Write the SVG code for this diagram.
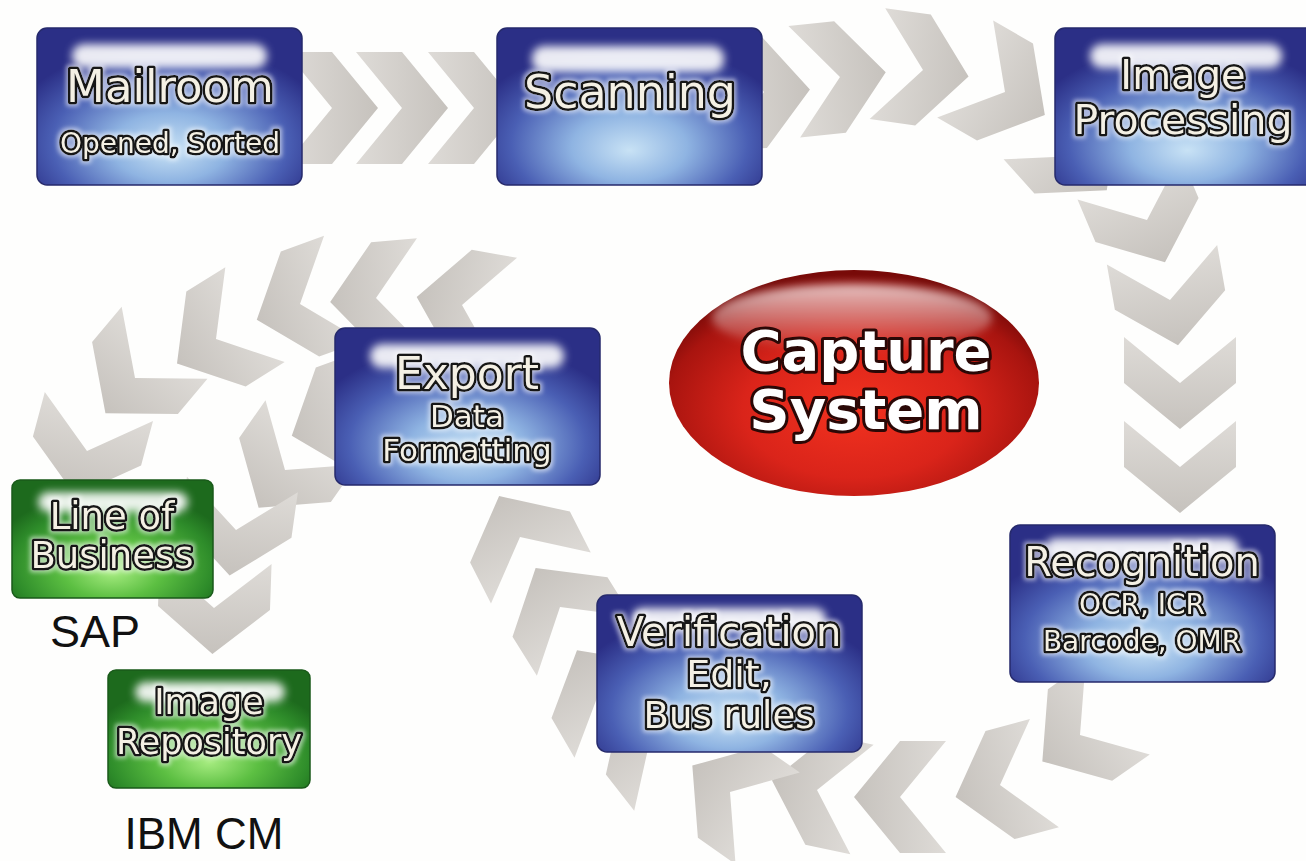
<svg xmlns="http://www.w3.org/2000/svg" xmlns:xlink="http://www.w3.org/1999/xlink" width="1306" height="861" viewBox="0 0 1306 861">
<defs>
<style>
.bt{font-family:"DejaVu Sans",Verdana,sans-serif;fill:#f4f0e4;stroke:#141414;stroke-width:5;paint-order:stroke;stroke-linejoin:round;text-anchor:middle}
.cap{font-family:"DejaVu Sans",Verdana,sans-serif;font-weight:bold;font-size:56px;fill:#ffffff;stroke:#2a0806;stroke-width:6;paint-order:stroke;stroke-linejoin:round;text-anchor:middle}
.plain{font-family:"Liberation Sans",Arial,sans-serif;fill:#111111}
.blue{fill:url(#bg);stroke:#262a6c;stroke-width:1.5}
.green{fill:url(#gg);stroke:#1a5a1a;stroke-width:1.5}
.hl{fill:#ffffff;opacity:0.9;filter:url(#blur)}
</style>
<linearGradient id="cg" x1="0" y1="0" x2="1" y2="0">
<stop offset="0" stop-color="#dedbd7"/>
<stop offset="1" stop-color="#c6c2bd"/>
</linearGradient>
<path id="chev" d="M-46,-56 L0,-56 L46,0 L0,56 L-46,56 L0,0 Z" fill="url(#cg)"/>
<radialGradient id="bg" cx="0.5" cy="0.72" r="0.62" fx="0.5" fy="0.78">
<stop offset="0" stop-color="#c8e2f5"/>
<stop offset="0.35" stop-color="#8fb4e2"/>
<stop offset="0.72" stop-color="#4a5fb4"/>
<stop offset="1" stop-color="#2b2f86"/>
</radialGradient>
<radialGradient id="gg" cx="0.5" cy="0.72" r="0.62" fx="0.5" fy="0.78">
<stop offset="0" stop-color="#a6ec80"/>
<stop offset="0.4" stop-color="#5cbf42"/>
<stop offset="0.8" stop-color="#2e8c2a"/>
<stop offset="1" stop-color="#1d6a1d"/>
</radialGradient>
<radialGradient id="rg" cx="0.5" cy="0.62" r="0.6">
<stop offset="0" stop-color="#f2321f"/>
<stop offset="0.5" stop-color="#da241a"/>
<stop offset="0.85" stop-color="#a8140f"/>
<stop offset="1" stop-color="#780a08"/>
</radialGradient>
<linearGradient id="rh" x1="0" y1="0" x2="0" y2="1">
<stop offset="0" stop-color="#ffffff" stop-opacity="0.75"/>
<stop offset="1" stop-color="#ffffff" stop-opacity="0"/>
</linearGradient>
<filter id="blur" x="-20%" y="-50%" width="140%" height="200%">
<feGaussianBlur stdDeviation="4"/>
</filter>
<filter id="glow" x="-10%" y="-30%" width="120%" height="160%">
<feMorphology in="SourceAlpha" operator="dilate" radius="2" result="d"/>
<feGaussianBlur in="d" stdDeviation="2" result="b"/>
<feFlood flood-color="#ffffff" flood-opacity="0.55"/>
<feComposite in2="b" operator="in" result="g"/>
<feMerge><feMergeNode in="g"/><feMergeNode in="SourceGraphic"/></feMerge>
</filter>
</defs>
<rect width="1306" height="861" fill="#fefefd"/>

<g id="connectors">
<use href="#chev" transform="translate(332,108) rotate(0)"/>
<use href="#chev" transform="translate(402,108) rotate(0)"/>
<use href="#chev" transform="translate(474,108) rotate(0)"/>
<use href="#chev" transform="translate(764,92) rotate(-3)"/>
<use href="#chev" transform="translate(840,77) rotate(-6)"/>
<use href="#chev" transform="translate(923,70) rotate(8)"/>
<use href="#chev" transform="translate(1005,92) rotate(30)"/>
<use href="#chev" transform="translate(1076,156) rotate(48)"/>
<use href="#chev" transform="translate(1147,220) rotate(67)"/>
<use href="#chev" transform="translate(1170,300) rotate(80)"/>
<use href="#chev" transform="translate(1180,383) rotate(90)"/>
<use href="#chev" transform="translate(1180,467) rotate(90)"/>
<use href="#chev" transform="translate(1080,735) rotate(145)"/>
<use href="#chev" transform="translate(1000,785) rotate(165)"/>
<use href="#chev" transform="translate(900,797) rotate(180)"/>
<use href="#chev" transform="translate(817,790) rotate(192)"/>
<use href="#chev" transform="translate(730,792) rotate(215)"/>
<use href="#chev" transform="translate(650,740) rotate(232)"/>
<use href="#chev" transform="translate(600,690) rotate(240)"/>
<use href="#chev" transform="translate(560,607) rotate(238)"/>
<use href="#chev" transform="translate(520,537) rotate(243)"/>
<use href="#chev" transform="translate(462,305) rotate(190)"/>
<use href="#chev" transform="translate(376,298) rotate(175)"/>
<use href="#chev" transform="translate(300,304) rotate(160)"/>
<use href="#chev" transform="translate(216,339) rotate(148)"/>
<use href="#chev" transform="translate(135,378) rotate(130)"/>
<use href="#chev" transform="translate(87,451) rotate(105)"/>
<use href="#chev" transform="translate(335,420) rotate(160)"/>
<use href="#chev" transform="translate(285,470) rotate(125)"/>
<use href="#chev" transform="translate(236,530) rotate(98)"/>
<use href="#chev" transform="translate(214,608) rotate(92)"/>
</g>

<g id="mailroom">
<rect class="blue" x="37" y="28" width="265" height="157" rx="10"/>
<rect class="hl" x="72" y="44" width="195" height="24" rx="12"/>
<g filter="url(#glow)">
<text class="bt" x="170" y="102" font-size="45">Mailroom</text>
<text class="bt" x="170" y="153" font-size="28" stroke-width="4.5">Opened, Sorted</text>
</g>
</g>

<g id="scanning">
<rect class="blue" x="497" y="28" width="265" height="157" rx="10"/>
<rect class="hl" x="532" y="46" width="192" height="26" rx="12"/>
<g filter="url(#glow)">
<text class="bt" x="630" y="108" font-size="46">Scanning</text>
</g>
</g>

<g id="image-processing">
<rect class="blue" x="1055" y="28" width="265" height="157" rx="10"/>
<rect class="hl" x="1090" y="44" width="192" height="24" rx="12"/>
<g filter="url(#glow)">
<text class="bt" x="1183" y="89" font-size="40">Image</text>
<text class="bt" x="1183" y="134" font-size="41">Processing</text>
</g>
</g>

<g id="capture-system">
<ellipse cx="854" cy="383" rx="185" ry="113" fill="url(#rg)"/>
<ellipse cx="852" cy="318" rx="140" ry="34" fill="url(#rh)" filter="url(#blur)"/>
<text class="cap" x="866" y="370">Capture</text>
<text class="cap" x="866" y="429">System</text>
</g>

<g id="export">
<rect class="blue" x="335" y="328" width="265" height="157" rx="10"/>
<rect class="hl" x="370" y="344" width="194" height="24" rx="12"/>
<g filter="url(#glow)">
<text class="bt" x="467" y="389" font-size="44">Export</text>
<text class="bt" x="467" y="427" font-size="31">Data</text>
<text class="bt" x="467" y="461" font-size="31">Formatting</text>
</g>
</g>

<g id="recognition">
<rect class="blue" x="1010" y="525" width="265" height="157" rx="10"/>
<rect class="hl" x="1045" y="538" width="194" height="22" rx="11"/>
<g filter="url(#glow)">
<text class="bt" x="1142" y="576" font-size="40">Recognition</text>
<text class="bt" x="1142" y="614" font-size="28" stroke-width="4.5">OCR, ICR</text>
<text class="bt" x="1142" y="651" font-size="28" stroke-width="4.5">Barcode, OMR</text>
</g>
</g>

<g id="verification">
<rect class="blue" x="597" y="595" width="265" height="157" rx="10"/>
<rect class="hl" x="632" y="608" width="194" height="22" rx="11"/>
<g filter="url(#glow)">
<text class="bt" x="729" y="646" font-size="40">Verification</text>
<text class="bt" x="729" y="687" font-size="38">Edit,</text>
<text class="bt" x="729" y="728" font-size="37">Bus rules</text>
</g>
</g>

<g id="line-of-business">
<rect class="green" x="12" y="480" width="201" height="118" rx="8"/>
<rect class="hl" x="38" y="492" width="150" height="20" rx="10" opacity="0.7"/>
<g filter="url(#glow)">
<text class="bt" x="112" y="529" font-size="37">Line of</text>
<text class="bt" x="112" y="568" font-size="37">Business</text>
</g>
<text class="plain" x="50" y="647" font-size="45">SAP</text>
</g>

<g id="image-repository">
<rect class="green" x="108" y="670" width="202" height="118" rx="8"/>
<rect class="hl" x="135" y="682" width="150" height="20" rx="10" opacity="0.7"/>
<g filter="url(#glow)">
<text class="bt" x="209" y="714" font-size="35">Image</text>
<text class="bt" x="209" y="754" font-size="35">Repository</text>
</g>
<text class="plain" x="204" y="849" font-size="44" text-anchor="middle">IBM CM</text>
</g>
</svg>
